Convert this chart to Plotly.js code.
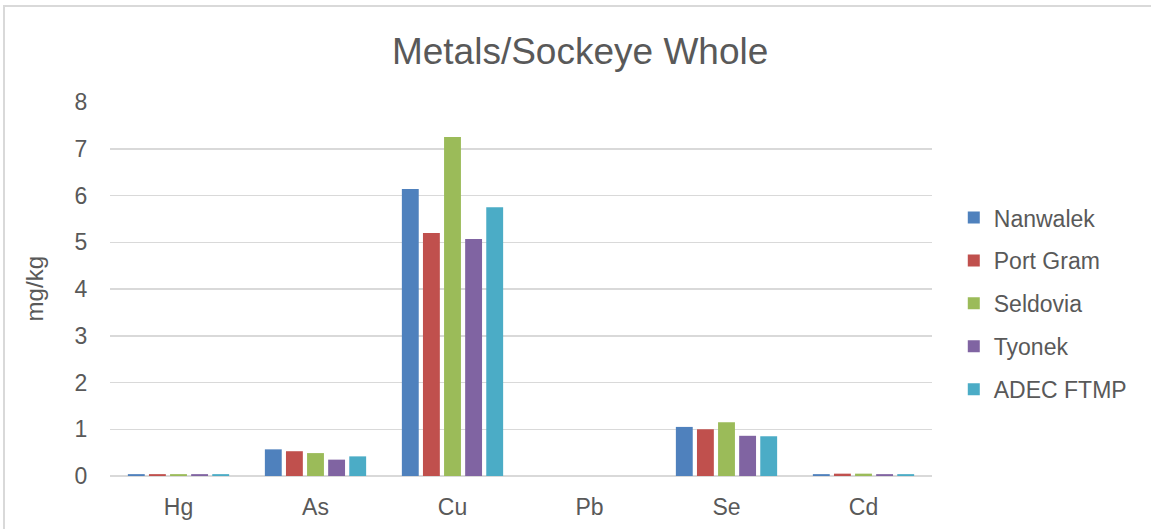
<!DOCTYPE html>
<html>
<head>
<meta charset="utf-8">
<script src="https://cdn.plot.ly/plotly-3.0.1.min.js"></script>
<style>
  html, body { margin: 0; padding: 0; background: #ffffff; overflow: hidden; }
  #chart { position: absolute; left: 0; top: 0; width: 1151px; height: 529px; }
  #frame { position: absolute; left: 3px; top: 5px; width: 1170px; height: 560px;
           border: 2px solid #d9d9d9; pointer-events: none; box-sizing: border-box; }
</style>
</head>
<body>
<div id="chart"></div>
<div id="frame"></div>
<script>
// Metal concentrations (mg/kg) in whole sockeye salmon, by sampling site
const metals = ['Hg', 'As', 'Cu', 'Pb', 'Se', 'Cd'];

const nanwalek  = [0.04, 0.57, 6.14, null, 1.05, 0.04];
const portGram  = [0.04, 0.53, 5.20, null, 1.00, 0.05];
const seldovia  = [0.04, 0.49, 7.25, null, 1.15, 0.05];
const tyonek    = [0.04, 0.35, 5.07, null, 0.86, 0.04];
const adecFtmp  = [0.04, 0.42, 5.75, null, 0.85, 0.04];

const seriesNames  = ['Nanwalek', 'Port Gram', 'Seldovia', 'Tyonek', 'ADEC FTMP'];
const seriesValues = [nanwalek, portGram, seldovia, tyonek, adecFtmp];
const seriesColors = ['#4F81BD', '#C0504D', '#9BBB59', '#8064A2', '#4BACC6'];

const yTicks = [0, 1, 2, 3, 4, 5, 6, 7, 8];

const textColor = '#595959';
const gridColor = '#d9d9d9';
const fontFamily = '"Liberation Sans", Arial, sans-serif';

const traces = seriesNames.map((name, i) => ({
  type: 'bar',
  name: name,
  x: metals,
  y: seriesValues[i],
  legendgroup: 'g' + i,
  marker: { color: seriesColors[i] },
  hoverinfo: 'x+y+name'
}));

const layout = {
  width: 1151,
  height: 529,
  paper_bgcolor: '#ffffff',
  plot_bgcolor: '#ffffff',
  margin: { l: 110, r: 219, t: 102, b: 53 },
  font: { family: fontFamily, color: textColor, size: 23 },
  title: {
    text: 'Metals/Sockeye Whole',
    font: { family: fontFamily, size: 37, color: textColor },
    x: 0.504, xref: 'container', xanchor: 'center',
    y: 48, yref: 'container', yanchor: 'middle'
  },
  barmode: 'group',
  bargap: 0.23,
  bargroupgap: 0.2,
  xaxis: {
    type: 'category',
    showgrid: false,
    showline: false,
    zeroline: false,
    ticks: 'outside',
    ticklen: 10,
    tickcolor: 'rgba(0,0,0,0)',
    tickfont: { size: 23, color: textColor }
  },
  yaxis: {
    range: [0, 8],
    tickvals: yTicks,
    ticktext: yTicks.map(String),
    showgrid: true,
    gridcolor: gridColor,
    gridwidth: 1.5,
    zeroline: true,
    zerolinecolor: gridColor,
    zerolinewidth: 1.5,
    showline: false,
    ticks: 'outside',
    ticklen: 17,
    tickcolor: 'rgba(0,0,0,0)',
    tickfont: { size: 23, color: textColor }
  },
  legend: {
    x: 1.0265, xanchor: 'left',
    y: 0.461, yanchor: 'middle',
    font: { size: 23, color: textColor },
    tracegroupgap: 10,
    itemwidth: 30,
    bgcolor: 'rgba(0,0,0,0)'
  },
  annotations: [{
    text: 'mg/kg',
    xref: 'paper', yref: 'paper',
    x: -0.092, y: 0.5,
    xanchor: 'center', yanchor: 'middle',
    textangle: -90,
    showarrow: false,
    font: { size: 24, color: textColor }
  }]
};

Plotly.newPlot('chart', traces, layout, { displayModeBar: false, staticPlot: true });
</script>
</body>
</html>
